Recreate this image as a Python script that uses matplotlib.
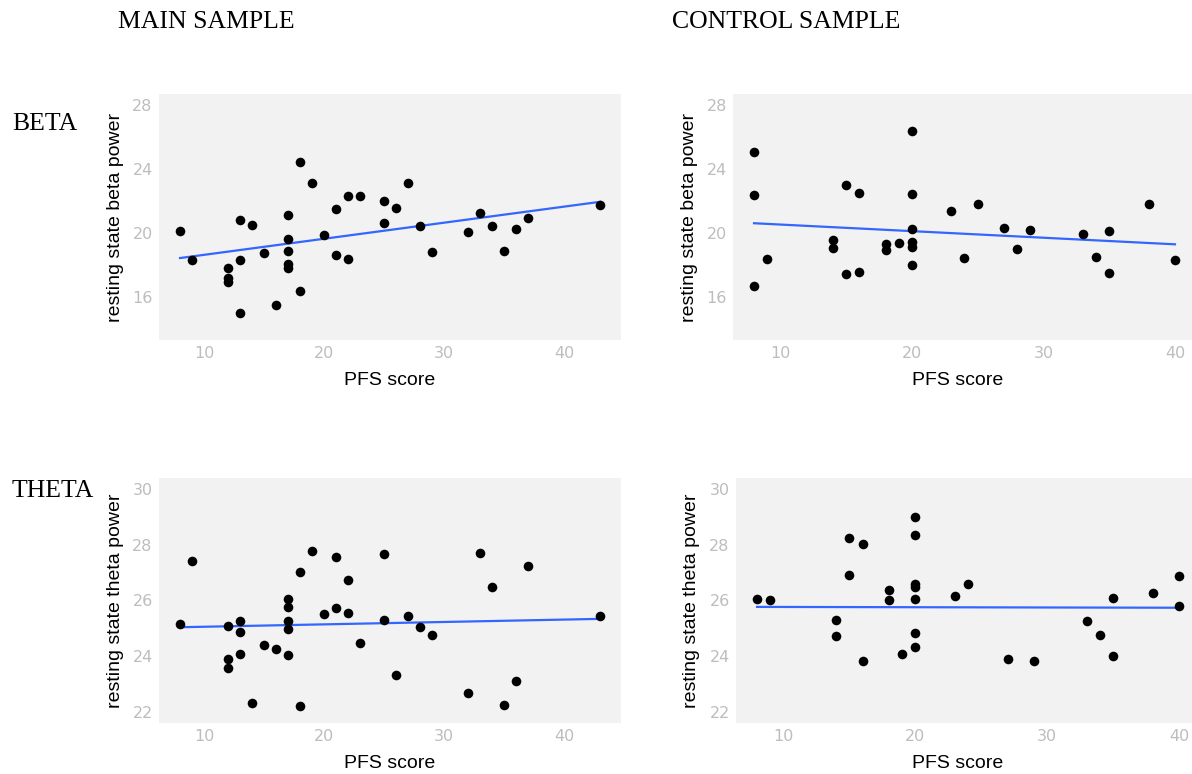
import numpy as np
import matplotlib
matplotlib.use("Agg")
import matplotlib.pyplot as plt

# ---------------- data ----------------
main_pfs = [8, 9, 12, 12, 12, 13, 13, 13, 14, 15, 16, 17, 17, 17, 17, 17, 18, 18, 19, 20,
            21, 21, 22, 22, 23, 25, 25, 26, 27, 28, 29, 32, 33, 34, 35, 36, 37, 43]
main_beta = [20.13, 18.28, 17.80, 17.18, 16.93, 20.84, 18.28, 15.02, 20.50, 18.74, 15.48,
             21.11, 19.64, 18.85, 18.08, 17.80, 24.44, 16.38, 23.12, 19.85,
             21.49, 18.64, 22.34, 18.35, 22.34, 22.00, 20.60, 21.55, 23.14, 20.42, 18.83,
             20.06, 21.23, 20.46, 18.89, 20.27, 20.96, 21.76]
main_theta = [25.17, 27.41, 25.10, 23.89, 23.59, 25.25, 24.88, 24.07, 22.31, 24.39, 24.24,
              26.07, 25.77, 25.25, 24.98, 24.05, 27.02, 22.22, 27.79, 25.52,
              27.56, 25.73, 26.75, 25.56, 24.46, 27.66, 25.31, 23.32, 25.44, 25.06, 24.75,
              22.68, 27.71, 26.49, 22.24, 23.11, 27.24, 25.43]

ctrl_beta_pfs = [8, 8, 8, 9, 14, 14, 15, 15, 16, 16, 18, 18, 19, 20, 20, 20, 20, 20, 20,
                 23, 24, 25, 27, 28, 29, 33, 34, 35, 35, 38, 40]
ctrl_beta = [25.04, 22.36, 16.69, 18.39, 19.56, 19.04, 23.01, 17.45, 22.53, 17.55, 19.29,
             18.93, 19.37, 26.36, 22.43, 20.25, 19.44, 19.12, 17.99,
             21.36, 18.45, 21.82, 20.33, 19.02, 20.19, 19.94, 18.49, 20.13, 17.49, 21.82, 18.28]

ctrl_theta_pfs = [8, 9, 14, 14, 15, 15, 16, 16, 18, 18, 19, 20, 20, 20, 20, 20, 20, 20,
                  23, 24, 27, 29, 33, 34, 35, 35, 38, 40, 40]
ctrl_theta = [26.07, 26.03, 25.30, 24.73, 28.26, 26.92, 28.04, 23.81, 26.39, 26.03, 24.08,
              29.00, 28.34, 26.58, 26.48, 26.07, 24.83, 24.33,
              26.15, 26.58, 23.90, 23.81, 25.25, 24.75, 26.09, 23.99, 26.26, 26.89, 25.82]

# linear-trend values at the lowest and highest PFS score
trend_main_beta = [18.43, 21.95]
trend_ctrl_beta = [20.61, 19.29]
trend_main_theta = [25.04, 25.34]
trend_ctrl_theta = [25.77, 25.74]

x_ticks = [10, 20, 30, 40]
beta_ticks = [16, 20, 24, 28]
theta_ticks = [22, 24, 26, 28, 30]

col_titles = ["MAIN SAMPLE", "CONTROL SAMPLE"]
row_titles = ["BETA", "THETA"]
x_label = "PFS score"
y_labels = ["resting state beta power", "resting state theta power"]

# ---------------- layout ----------------
W, H = 1192, 774
fig = plt.figure(figsize=(W / 100, H / 100), dpi=100)
fig.patch.set_facecolor("white")


def rect(l, t, r, b):
    return [l / W, 1 - b / H, (r - l) / W, (b - t) / H]


def fx(px):
    return px / W


def fy(py):
    return 1 - py / H


panels = [
    dict(box=(159, 94, 621, 340), x=main_pfs, y=main_beta, trend=trend_main_beta,
         yt=beta_ticks, ylim=(14, 28), yl=y_labels[0], xlc=390),
    dict(box=(733, 94, 1196, 340), x=ctrl_beta_pfs, y=ctrl_beta, trend=trend_ctrl_beta,
         yt=beta_ticks, ylim=(14, 28), yl=y_labels[0], xlc=958),
    dict(box=(159, 478, 621, 723), x=main_pfs, y=main_theta, trend=trend_main_theta,
         yt=theta_ticks, ylim=(22, 30), yl=y_labels[1], xlc=390),
    dict(box=(736, 478, 1200, 723), x=ctrl_theta_pfs, y=ctrl_theta, trend=trend_ctrl_theta,
         yt=theta_ticks, ylim=(22, 30), yl=y_labels[1], xlc=958),
]

for p in panels:
    l, t, r, b = p["box"]
    ax = fig.add_axes(rect(l, t, r, b))
    ax.set_facecolor("#F2F2F2")
    x = np.array(p["x"], dtype=float)
    y = np.array(p["y"], dtype=float)
    xmin, xmax = x.min(), x.max()
    dx = (xmax - xmin) * 0.05
    ax.set_xlim(xmin - dx, xmax + dx)
    y0, y1 = p["ylim"]
    dy = (y1 - y0) * 0.05
    ax.set_ylim(y0 - dy, y1 + dy)
    ax.scatter(x, y, s=48, color="black", zorder=3, linewidths=0)
    ax.plot([xmin, xmax], p["trend"], color="#3366FF", lw=1.6, zorder=2)
    ax.set_xticks(x_ticks)
    ax.set_yticks(p["yt"])
    ax.tick_params(length=0, pad=4.5, labelsize=11.5, colors="#BDBDBD", labelcolor="#BDBDBD")
    for s in ax.spines.values():
        s.set_visible(False)
    fig.text(fx(l - 44), fy((t + b) / 2), p["yl"], rotation=90, ha="center", va="center",
             fontsize=14, family="Liberation Sans", color="black")
    fig.text(fx(p["xlc"]), fy(b + 45), x_label, ha="center", va="baseline",
             fontsize=14, family="Liberation Sans", color="black")

# titles
fig.text(fx(118), fy(28), col_titles[0], ha="left", va="baseline", fontsize=18.5,
         family="Liberation Serif", color="black")
fig.text(fx(672), fy(28), col_titles[1], ha="left", va="baseline", fontsize=18.5,
         family="Liberation Serif", color="black")
fig.text(fx(12), fy(130), row_titles[0], ha="left", va="baseline", fontsize=18.5,
         family="Liberation Serif", color="black")
fig.text(fx(12), fy(497), row_titles[1], ha="left", va="baseline", fontsize=18.5,
         family="Liberation Serif", color="black")

fig.savefig("out.png", dpi=100, facecolor="white")
